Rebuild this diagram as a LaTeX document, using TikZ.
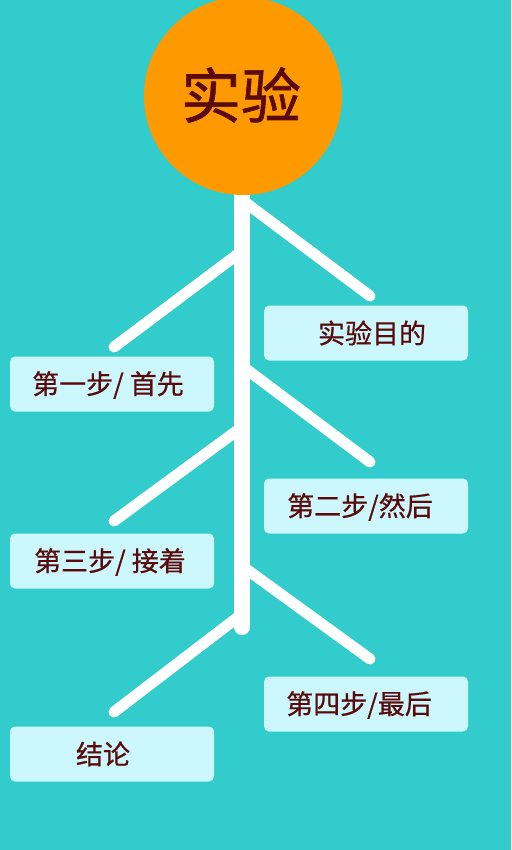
\documentclass[tikz,border=0pt]{standalone}
\usepackage{fontspec}
\setmainfont{Noto Sans CJK SC}
\newfontfamily\cjk[FakeBold=0.6]{Noto Sans CJK SC}
\newfontfamily\cjktitle[FakeBold=1.0]{Noto Sans CJK SC}
\definecolor{bgteal}{HTML}{33CCCC}
\definecolor{orangeball}{HTML}{FF9900}
\definecolor{boxfill}{HTML}{CCF7FC}
\definecolor{textred}{HTML}{5A0A0A}
\tikzset{
  stepbox/.style={draw=none, fill=boxfill, rounded corners=5pt, minimum width=204pt, minimum height=55pt, inner sep=0pt},
  steptext/.style={text=textred, font=\cjk\fontsize{27}{30}\selectfont, inner sep=0pt, anchor=center},
  branch/.style={draw=white, line width=11pt, line cap=round},
  trunkline/.style={draw=white, line width=16pt, line cap=round}
}
\begin{document}
\begin{tikzpicture}[x=1pt,y=-1pt]
\fill[bgteal] (0,0) rectangle (511,850);
\useasboundingbox (0,0) rectangle (511,850);
% trunk
\coordinate (trunktop) at (242,150);
\coordinate (trunkbot) at (242,627);
% branch roots on trunk and free ends
\coordinate (r1a) at (242,200); \coordinate (r1b) at (370,296);
\coordinate (l1a) at (242,251); \coordinate (l1b) at (114,347);
\coordinate (r2a) at (242,366); \coordinate (r2b) at (370,462);
\coordinate (l2a) at (242,427); \coordinate (l2b) at (114,521);
\coordinate (r3a) at (242,566); \coordinate (r3b) at (370,659);
\coordinate (l3a) at (242,614); \coordinate (l3b) at (114,712);
\draw[branch] (r1a) -- (r1b);
\draw[branch] (l1a) -- (l1b);
\draw[branch] (r2a) -- (r2b);
\draw[branch] (l2a) -- (l2b);
\draw[branch] (r3a) -- (r3b);
\draw[branch] (l3a) -- (l3b);
\draw[trunkline] (trunktop) -- (trunkbot);
% title
\node[circle, fill=orangeball, minimum size=198pt, inner sep=0pt] (title) at (243,96) {};
\node[text=textred, font=\cjktitle\fontsize{60}{66}\selectfont, inner sep=0pt] (titletext) at (241,95) {实验};
% boxes
\node[stepbox] (b0) at (366,333) {};
\node[steptext] (t0) at (372,333) {实验目的};
\node[stepbox] (b1) at (112,384) {};
\node[steptext] (t1) at (108,385) {第一步/ 首先};
\node[stepbox] (b2) at (366,506) {};
\node[steptext] (t2) at (360,507) {第二步/然后};
\node[stepbox] (b3) at (112,561) {};
\node[steptext] (t3) at (110,562) {第三步/ 接着};
\node[stepbox] (b4) at (366,704) {};
\node[steptext] (t4) at (359,705) {第四步/最后};
\node[stepbox] (b5) at (112,754) {};
\node[steptext] (t5) at (103,754) {结论};
\end{tikzpicture}
\end{document}
